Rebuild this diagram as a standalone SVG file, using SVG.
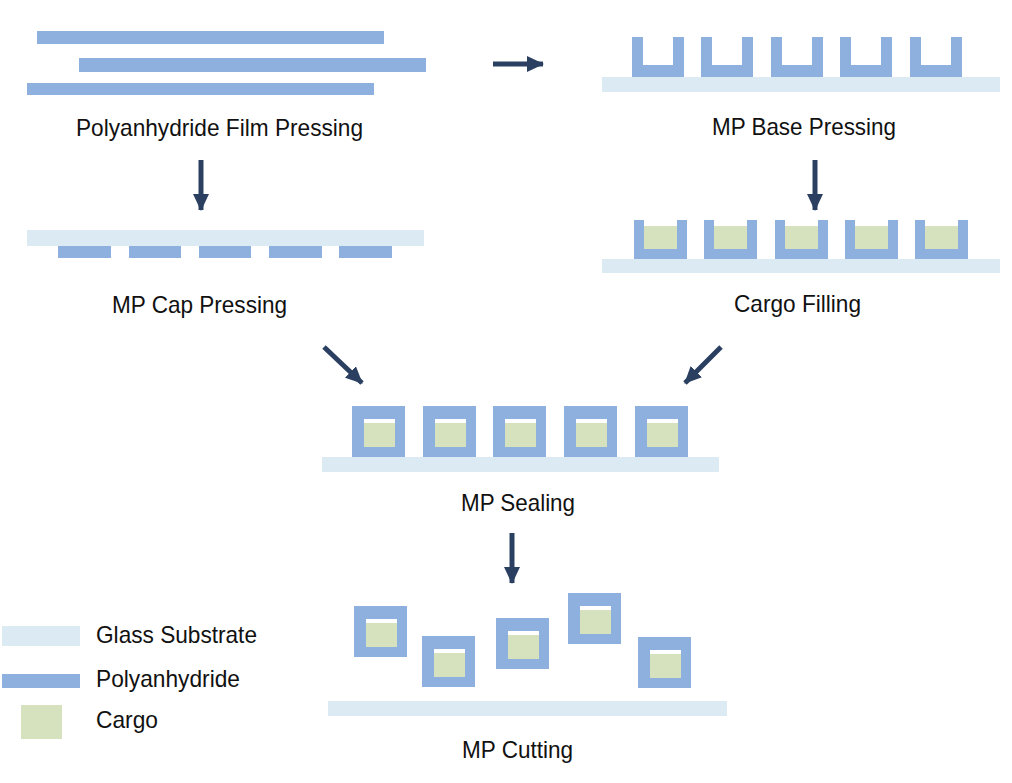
<svg xmlns="http://www.w3.org/2000/svg" width="1012" height="783" viewBox="0 0 1012 783">
<style>
.poly{fill:#8DB0DF}
.glass{fill:#DCEBF3}
.cargo{fill:#D6E2BD}
.gap{fill:#FFFFFF}
.lbl{font-family:"Liberation Sans",Arial,sans-serif;font-size:24px;fill:#111111}
.arrow{stroke:#2B4061;stroke-width:5;fill:none}
</style>
<defs>
<marker id="ah" markerUnits="userSpaceOnUse" markerWidth="17" markerHeight="16" viewBox="0 0 17 16" refX="16" refY="8" orient="auto">
<path d="M0,0 L17,8 L0,16 Z" fill="#2B4061"/>
</marker>
<g id="capsule">
<rect class="poly" x="0" y="0" width="53" height="51"/>
<rect class="gap" x="12" y="13" width="31" height="4"/>
<rect class="cargo" x="12" y="17" width="31" height="24"/>
</g>
<path id="ubase" class="poly" d="M0,0 H11 V28 H41 V0 H52 V40 H0 Z"/>
<g id="ufill">
<path class="poly" d="M0,0 H10 V29 H43 V0 H53 V39 H0 Z"/>
<rect class="cargo" x="10" y="6" width="33" height="23"/>
</g>
</defs>
<rect width="1012" height="783" fill="#FFFFFF"/>

<g id="film-pressing">
<rect class="poly" x="37" y="31" width="347" height="13"/>
<rect class="poly" x="79" y="58" width="347" height="14"/>
<rect class="poly" x="27" y="83" width="347" height="12"/>
<text class="lbl" x="219.5" y="136" text-anchor="middle" textLength="287" lengthAdjust="spacingAndGlyphs">Polyanhydride Film Pressing</text>
</g>

<g id="base-pressing">
<rect class="glass" x="602" y="77" width="398" height="15"/>
<use href="#ubase" x="632" y="37"/>
<use href="#ubase" x="701" y="37"/>
<use href="#ubase" x="771" y="37"/>
<use href="#ubase" x="840" y="37"/>
<use href="#ubase" x="910" y="37"/>
<text class="lbl" x="804" y="135" text-anchor="middle" textLength="184" lengthAdjust="spacingAndGlyphs">MP Base Pressing</text>
</g>

<g id="cap-pressing">
<rect class="glass" x="27" y="230" width="397" height="16"/>
<rect class="poly" x="58" y="246" width="53" height="12"/>
<rect class="poly" x="129" y="246" width="52" height="12"/>
<rect class="poly" x="199" y="246" width="52" height="12"/>
<rect class="poly" x="269" y="246" width="53" height="12"/>
<rect class="poly" x="339" y="246" width="53" height="12"/>
<text class="lbl" x="199.5" y="313" text-anchor="middle" textLength="175" lengthAdjust="spacingAndGlyphs">MP Cap Pressing</text>
</g>

<g id="cargo-filling">
<rect class="glass" x="602" y="259" width="398" height="14"/>
<use href="#ufill" x="634" y="220"/>
<use href="#ufill" x="704" y="220"/>
<use href="#ufill" x="775" y="220"/>
<use href="#ufill" x="845" y="220"/>
<use href="#ufill" x="915" y="220"/>
<text class="lbl" x="797.5" y="312" text-anchor="middle" textLength="127" lengthAdjust="spacingAndGlyphs">Cargo Filling</text>
</g>

<g id="sealing">
<rect class="glass" x="322" y="457" width="397" height="15"/>
<use href="#capsule" x="352" y="406"/>
<use href="#capsule" x="423" y="406"/>
<use href="#capsule" x="493" y="406"/>
<use href="#capsule" x="564" y="406"/>
<use href="#capsule" x="635" y="406"/>
<text class="lbl" x="518" y="511" text-anchor="middle" textLength="114" lengthAdjust="spacingAndGlyphs">MP Sealing</text>
</g>

<g id="cutting">
<rect class="glass" x="328" y="701" width="399" height="15"/>
<use href="#capsule" x="354" y="606"/>
<use href="#capsule" x="422" y="636"/>
<use href="#capsule" x="496" y="618"/>
<use href="#capsule" x="568" y="593"/>
<use href="#capsule" x="638" y="637"/>
<text class="lbl" x="517.5" y="758" text-anchor="middle" textLength="111" lengthAdjust="spacingAndGlyphs">MP Cutting</text>
</g>

<g id="legend">
<rect class="glass" x="2" y="626" width="78" height="20"/>
<text class="lbl" x="96" y="643" textLength="161" lengthAdjust="spacingAndGlyphs">Glass Substrate</text>
<rect class="poly" x="2" y="674" width="78" height="14"/>
<text class="lbl" x="96" y="687" textLength="144" lengthAdjust="spacingAndGlyphs">Polyanhydride</text>
<rect class="cargo" x="21" y="705" width="41" height="34"/>
<text class="lbl" x="96" y="728" textLength="62" lengthAdjust="spacingAndGlyphs">Cargo</text>
</g>

<g id="connectors">
<line class="arrow" x1="493" y1="64" x2="543" y2="64" marker-end="url(#ah)"/>
<line class="arrow" x1="201" y1="160" x2="201" y2="210" marker-end="url(#ah)"/>
<line class="arrow" x1="815" y1="160" x2="815" y2="210" marker-end="url(#ah)"/>
<line class="arrow" x1="324" y1="347" x2="362" y2="383" marker-end="url(#ah)"/>
<line class="arrow" x1="721" y1="347" x2="685" y2="383" marker-end="url(#ah)"/>
<line class="arrow" x1="512" y1="533" x2="512" y2="583" marker-end="url(#ah)"/>
</g>
</svg>
